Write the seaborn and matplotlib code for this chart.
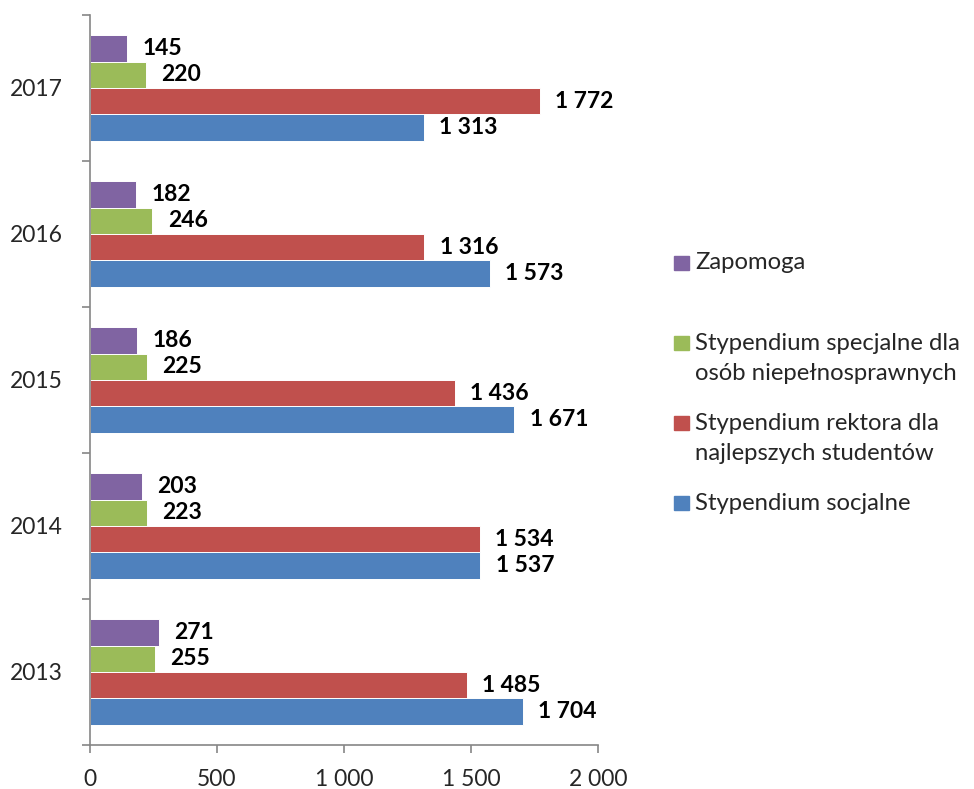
import matplotlib
matplotlib.use("Agg")
import matplotlib.pyplot as plt
import matplotlib.patches as mpatches
from matplotlib.ticker import FixedLocator, NullFormatter
import seaborn as sns
import pandas as pd

# data (top to bottom)
years = ["2017", "2016", "2015", "2014", "2013"]
series = ["Zapomoga",
          "Stypendium specjalne dla osób niepełnosprawnych",
          "Stypendium rektora dla najlepszych studentów",
          "Stypendium socjalne"]
legend_lines = [["Zapomoga"],
                ["Stypendium specjalne dla", "osób niepełnosprawnych"],
                ["Stypendium rektora dla", "najlepszych studentów"],
                ["Stypendium socjalne"]]
zapomoga = [145, 182, 186, 203, 271]
specjalne = [220, 246, 225, 223, 255]
rektora = [1772, 1316, 1436, 1534, 1485]
socjalne = [1313, 1573, 1671, 1537, 1704]
colors = ["#8064A2", "#9BBB59", "#C0504D", "#4F81BD"]
x_ticks = [0, 500, 1000, 1500, 2000]

W, H = 974, 789


def fmt(v):
    return f"{int(v):,}".replace(",", " ")


rows = []
for name, vals in zip(series, [zapomoga, specjalne, rektora, socjalne]):
    for yr, v in zip(years, vals):
        rows.append({"year": yr, "series": name, "value": v})
df = pd.DataFrame(rows)

sns.set_style("white")
plt.rcParams["font.family"] = ["Lato", "DejaVu Sans"]

fig = plt.figure(figsize=(W / 100, H / 100), dpi=100)
ax = fig.add_axes([90 / W, 1 - 745 / H, (598 - 90) / W, (745 - 15) / H])

sns.barplot(data=df, x="value", y="year", hue="series", order=years,
            hue_order=series, palette=colors, orient="h", width=0.72,
            saturation=1, edgecolor="white", linewidth=0.7, legend=False, ax=ax)

for cont in ax.containers:
    ax.bar_label(cont, labels=[fmt(v) for v in cont.datavalues], padding=11,
                 fontsize=16.5, fontweight="bold", color="black")

gray = "#868686"
ax.set_xlim(0, 2000)
ax.set_ylim(len(years) - 0.5, -0.5)
ax.set_xticks(x_ticks)
ax.set_xticklabels([fmt(t) for t in x_ticks], fontsize=16.5)
ax.yaxis.set_major_locator(FixedLocator([i - 0.5 for i in range(len(years) + 1)]))
ax.yaxis.set_major_formatter(NullFormatter())
ax.yaxis.set_minor_locator(FixedLocator(range(len(years))))
ax.set_yticklabels(years, minor=True, fontsize=16.5)
ax.tick_params(axis="y", which="major", direction="out", length=6, width=1.2, color=gray, left=True)
ax.tick_params(axis="y", which="minor", length=0, pad=19.5)
ax.tick_params(axis="x", direction="out", length=5.5, width=1.2, color=gray, bottom=True, pad=12)
ax.set_xlabel("")
ax.set_ylabel("")
for s in ["top", "right"]:
    ax.spines[s].set_visible(False)
for s in ["left", "bottom"]:
    ax.spines[s].set_color(gray)
    ax.spines[s].set_linewidth(1.2)

# legend built by hand so the marker sits on the first line of each entry
legend_y = [263, 343, 423, 503]
line_gap = 31
for lines, c, y in zip(legend_lines, colors, legend_y):
    fig.patches.append(mpatches.Rectangle((674 / W, 1 - (y + 7) / H), 15 / W, 14 / H,
                                          transform=fig.transFigure, color=c))
    for k, ln in enumerate(lines):
        fig.text(695 / W, 1 - (y + k * line_gap) / H, ln, fontsize=17.2,
                 va="center", ha="left")

fig.savefig("out.png", dpi=100)
